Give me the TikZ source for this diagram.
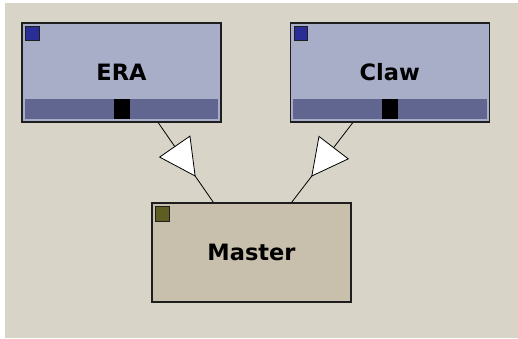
\documentclass[tikz,border=0pt]{standalone}
\usepackage{fontspec}
\setmainfont{DejaVu Sans}
\usetikzlibrary{arrows.meta,decorations.markings}
\definecolor{bg}{RGB}{216,212,200}
\definecolor{bluebox}{RGB}{168,173,200}
\definecolor{bluebar}{RGB}{96,102,144}
\definecolor{bluesq}{RGB}{42,45,150}
\definecolor{tanbox}{RGB}{200,192,172}
\definecolor{olivesq}{RGB}{94,94,34}
\definecolor{edge}{RGB}{30,30,30}
\begin{document}
\begin{tikzpicture}[x=1pt,y=-1pt,
  box/.style={draw=edge, line width=1.5pt, minimum width=199pt, minimum height=99pt,
    inner sep=0pt, font=\fontsize{22.5}{26}\selectfont\bfseries},
  classbox/.style={box, fill=bluebox},
  masterbox/.style={box, fill=tanbox},
  conn/.style={draw=black, line width=0.8pt, postaction={decorate},
    decoration={markings, mark=at position 0.68 with
      {\arrow{Triangle[length=37pt,width=38pt,fill=white,line width=0.8pt]}}}}
]
\useasboundingbox (0,0) rectangle (518,338);
\fill[white] (0,0) rectangle (518,338);
\fill[bg] (5,3) rectangle (518,338);

\node[classbox] (era) at (121.5,72.5) {ERA};
\node[classbox] (claw) at (389.8,72.5) {Claw};
\node[masterbox] (master) at (251.5,252.5) {Master};

% bars and markers
\foreach \n in {era,claw}{
  \fill[bluebar] ([xshift=3.5pt,yshift=4pt]\n.south west) rectangle ([xshift=-3.5pt,yshift=24pt]\n.south east);
  \fill[black] ([xshift=-8pt,yshift=4pt]\n.south) rectangle ([xshift=8pt,yshift=24pt]\n.south);
  \filldraw[fill=bluesq, draw=edge, line width=1pt] ([xshift=4.5pt,yshift=-4.5pt]\n.north west) rectangle ([xshift=18pt,yshift=-18pt]\n.north west);
}
\filldraw[fill=olivesq, draw=edge, line width=1pt] ([xshift=4.5pt,yshift=-4.5pt]master.north west) rectangle ([xshift=18pt,yshift=-19pt]master.north west);

% connectors
\path[conn] ([xshift=36.8pt]era.south) -- ([xshift=-38.2pt]master.north);
\path[conn] ([xshift=-37.1pt]claw.south) -- ([xshift=40.2pt]master.north);
\end{tikzpicture}
\end{document}
